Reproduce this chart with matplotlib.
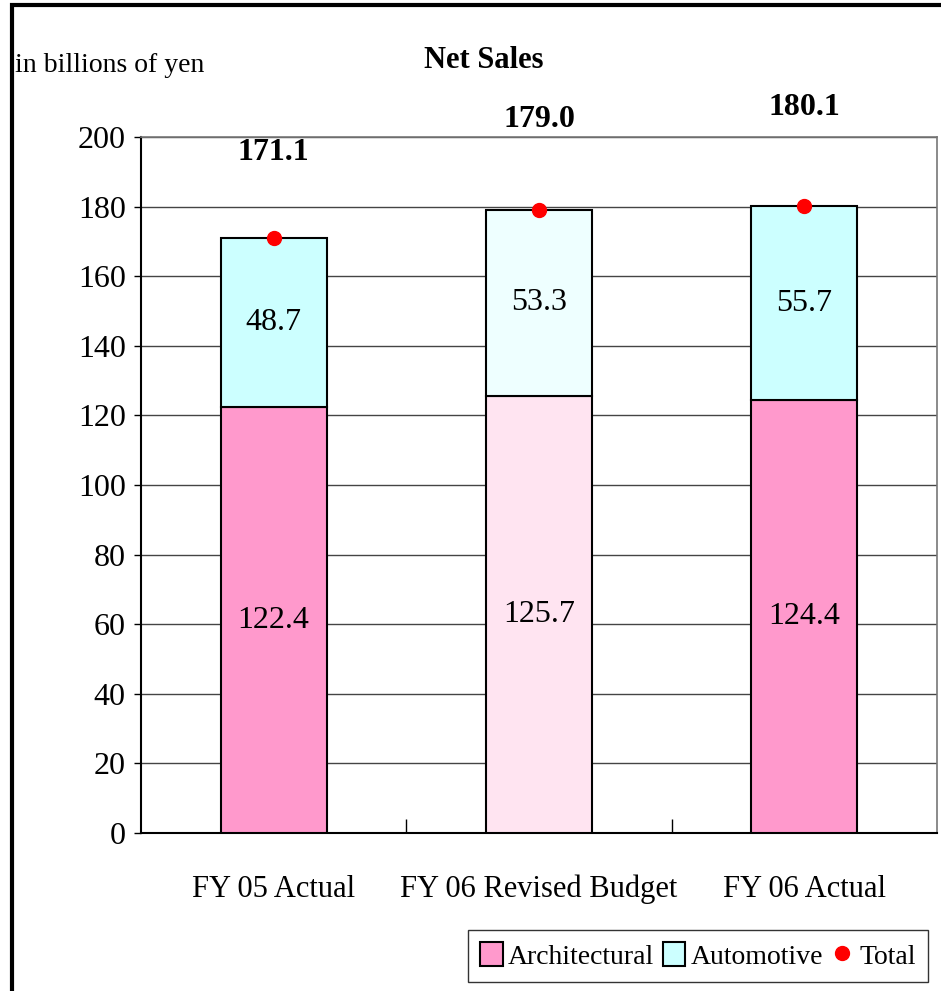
import numpy as np
import matplotlib.pyplot as plt
from matplotlib.patches import Patch, Rectangle
from matplotlib.lines import Line2D

# ---- data (billions of yen)
categories = ["FY 05 Actual", "FY 06 Revised Budget", "FY 06 Actual"]
architectural = [122.4, 125.7, 124.4]
automotive = [48.7, 53.3, 55.7]
totals = [171.1, 179.0, 180.1]

plt.rcParams["font.family"] = ["Liberation Serif", "DejaVu Serif"]

arch_col = ["#FF99CC", "#FFE4F1", "#FF99CC"]
auto_col = ["#CCFFFF", "#EEFFFF", "#CCFFFF"]

fig = plt.figure(figsize=(9.41, 9.91), dpi=100)
ax = fig.add_axes([141 / 941, 1 - 833 / 991, (937 - 141) / 941, (833 - 137) / 991])

# outer frame
fig.patches.append(Rectangle((12 / 941, -0.01), 1.0, 1 - 5 / 991 + 0.01,
                             transform=fig.transFigure, fill=False,
                             edgecolor="black", lw=3, clip_on=False))

x = np.arange(len(categories))
w = 0.4
ax.bar(x, architectural, w, color=arch_col, edgecolor="black", lw=1.5, zorder=3)
ax.bar(x, automotive, w, bottom=architectural, color=auto_col,
       edgecolor="black", lw=1.5, zorder=3)
ax.plot(x, totals, "o", color="red", ms=10, zorder=5)

for i in range(len(x)):
    ax.text(x[i], architectural[i] / 2, f"{architectural[i]:.1f}",
            ha="center", va="center", fontsize=23, zorder=6)
    ax.text(x[i], architectural[i] + automotive[i] / 2, f"{automotive[i]:.1f}",
            ha="center", va="center", fontsize=23, zorder=6)

label_off = [24.5, 26.0, 28.5]
for i in range(len(x)):
    ax.text(x[i], totals[i] + label_off[i], f"{totals[i]:.1f}",
            ha="center", va="center", fontsize=23, fontweight="bold",
            clip_on=False)

ax.set_xlim(-0.5, 2.5)
ax.set_ylim(0, 200)
ax.set_yticks(np.arange(0, 201, 20))
ax.yaxis.grid(True, color="#444444", lw=1)
ax.set_axisbelow(True)
ax.tick_params(axis="y", labelsize=23, length=5, width=1, pad=6)

ax.set_xticks(x)
ax.set_xticklabels(categories)
ax.tick_params(axis="x", length=0, labelsize=22, pad=30)
ax.set_xticks([0.5, 1.5], minor=True)
ax.tick_params(axis="x", which="minor", direction="in", length=10, width=1)

for s in ["left", "bottom"]:
    ax.spines[s].set_color("black")
    ax.spines[s].set_linewidth(1.5)
for s in ["top", "right"]:
    ax.spines[s].set_color("#777777")
    ax.spines[s].set_linewidth(1.2)

fig.text(15 / 941, 1 - 65 / 991, "in billions of yen", fontsize=20,
         ha="left", va="center")
fig.text(484 / 941, 1 - 60 / 991, "Net Sales", fontsize=22,
         fontweight="bold", ha="center", va="center")

handles = [
    Patch(facecolor="#FF99CC", edgecolor="black", lw=1.5, label="Architectural"),
    Patch(facecolor="#CCFFFF", edgecolor="black", lw=1.5, label="Automotive"),
    Line2D([], [], marker="o", color="red", ls="none", ms=10, label="Total"),
]
leg = fig.legend(handles=handles, loc="center", ncol=3,
                 bbox_to_anchor=(698 / 941, 1 - 956 / 991), fontsize=20,
                 frameon=True, fancybox=False, edgecolor="black",
                 handlelength=0.8, handleheight=0.9, handletextpad=0.2,
                 columnspacing=0.3, borderpad=0.45, borderaxespad=0)
leg.get_frame().set_linewidth(1)

fig.savefig("out.png", dpi=100)
